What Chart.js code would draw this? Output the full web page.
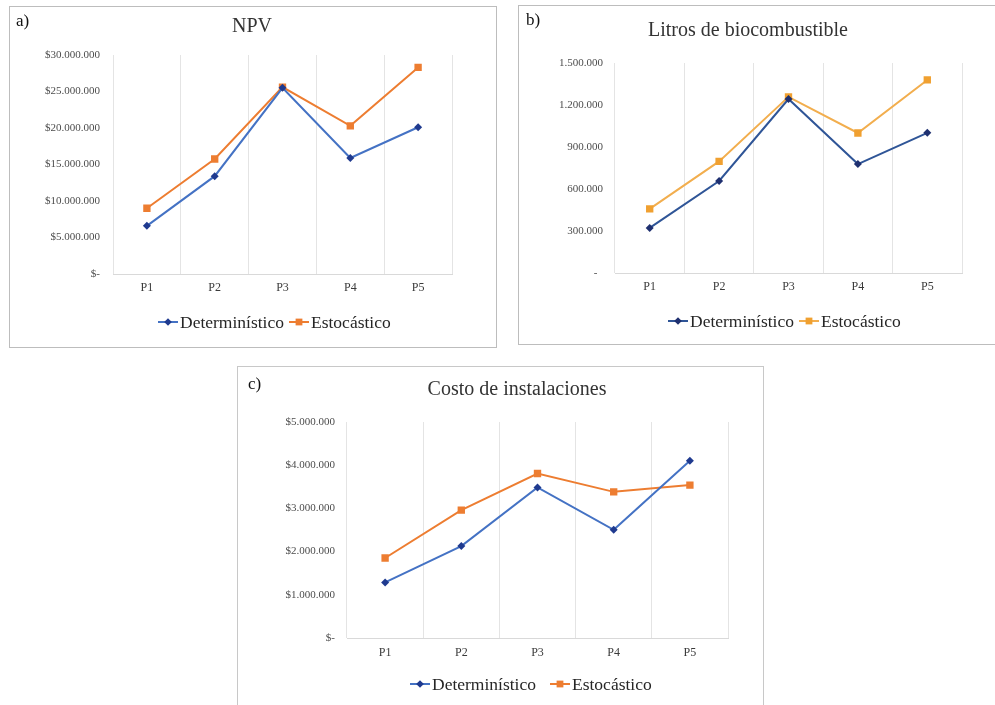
<!DOCTYPE html>
<html>
<head>
<meta charset="utf-8">
<script src="https://cdn.jsdelivr.net/npm/chart.js@4.4.1/dist/chart.umd.min.js"></script>
<style>
  html, body { margin: 0; padding: 0; background: #ffffff; width: 995px; height: 705px; overflow: hidden; }
  canvas { position: absolute; }
</style>
</head>
<body>
<canvas id="chartNpv" width="488" height="342" style="left:9px;top:6px"></canvas>
<canvas id="chartLitros" width="490" height="340" style="left:518px;top:5px"></canvas>
<canvas id="chartCosto" width="527" height="345" style="left:237px;top:366px"></canvas>
<script>
// Categories and series names
const periods = ['P1', 'P2', 'P3', 'P4', 'P5'];
const seriesNames = ['Determinístico', 'Estocástico'];

// a) NPV
const npvDet = [6600000, 13400000, 25500000, 15900000, 20100000];
const npvSto = [9000000, 15750000, 25600000, 20300000, 28300000];
const npvTicks = ['$-', '$5.000.000', '$10.000.000', '$15.000.000', '$20.000.000', '$25.000.000', '$30.000.000'];

// b) Litros de biocombustible
const litrosDet = [322000, 657000, 1243000, 778000, 1001000];
const litrosSto = [458000, 797000, 1258000, 1000000, 1379000];
const litrosTicks = ['-  ', '300.000', '600.000', '900.000', '1.200.000', '1.500.000'];

// c) Costo de instalaciones
const costoDet = [1287000, 2127000, 3485000, 2504000, 4105000];
const costoSto = [1852000, 2959000, 3807000, 3383000, 3540000];
const costoTicks = ['$-', '$1.000.000', '$2.000.000', '$3.000.000', '$4.000.000', '$5.000.000'];

const SERIF = '"Liberation Serif", "Times New Roman", serif';
const font = (size) => `${size}px ${SERIF}`;

function drawMarker(ctx, style, x, y, r, color) {
  ctx.fillStyle = color;
  ctx.beginPath();
  if (style === 'rectRot') {
    ctx.moveTo(x, y - r); ctx.lineTo(x + r, y); ctx.lineTo(x, y + r); ctx.lineTo(x - r, y);
    ctx.closePath();
  } else {
    const s = r * Math.SQRT1_2;
    ctx.rect(x - s, y - s, 2 * s, 2 * s);
  }
  ctx.fill();
}

// Panel frame, tag, title and legend for each chart
const panelDecor = {
  id: 'panelDecor',
  beforeDraw(chart) {
    const ctx = chart.ctx;
    ctx.save();
    ctx.fillStyle = '#ffffff';
    ctx.fillRect(0, 0, chart.width, chart.height);
    ctx.restore();
  },
  afterDraw(chart, args, o) {
    const ctx = chart.ctx;
    ctx.save();
    // frame
    ctx.strokeStyle = o.frameColor;
    ctx.lineWidth = 1;
    ctx.strokeRect(0.5, 0.5, chart.width - 1, chart.height - 1);
    // tag
    ctx.fillStyle = '#111111';
    ctx.font = font(17);
    ctx.textAlign = 'left';
    ctx.textBaseline = 'middle';
    ctx.fillText(o.tag, o.tagX, o.tagY);
    // title
    ctx.fillStyle = '#333333';
    ctx.font = font(20);
    ctx.textAlign = 'center';
    ctx.fillText(o.title, o.titleX, o.titleY);
    // legend
    ctx.font = font(17.5);
    ctx.textAlign = 'left';
    let x = o.legendX;
    const y = o.legendY;
    chart.data.datasets.forEach((ds) => {
      ctx.strokeStyle = ds.borderColor;
      ctx.lineWidth = 2;
      ctx.beginPath();
      ctx.moveTo(x, y);
      ctx.lineTo(x + 20, y);
      ctx.stroke();
      drawMarker(ctx, ds.pointStyle, x + 10, y, ds.pointStyle === 'rectRot' ? 3.8 : 4.8, ds.pointBackgroundColor);
      x += 22;
      ctx.fillStyle = '#262626';
      ctx.fillText(ds.label, x, y + 1);
      x += ctx.measureText(ds.label).width + o.legendGap;
    });
    ctx.restore();
  }
};

function makeChart(id, cfg) {
  const datasets = [
    {
      label: seriesNames[0], data: cfg.det,
      borderColor: cfg.detLine, backgroundColor: cfg.detLine,
      pointStyle: 'rectRot', pointRadius: 4, pointBackgroundColor: cfg.detMark,
      pointBorderColor: cfg.detMark, pointBorderWidth: 0, borderWidth: 2, tension: 0
    },
    {
      label: seriesNames[1], data: cfg.sto,
      borderColor: cfg.stoLine, backgroundColor: cfg.stoLine,
      pointStyle: 'rect', pointRadius: 5.2, pointBackgroundColor: cfg.stoMark,
      pointBorderColor: cfg.stoMark, pointBorderWidth: 0, borderWidth: 2, tension: 0
    }
  ];
  return new Chart(document.getElementById(id), {
    type: 'line',
    data: { labels: periods, datasets },
    plugins: [panelDecor],
    options: {
      responsive: false,
      animation: false,
      devicePixelRatio: 1,
      layout: { padding: { left: 0, right: cfg.padRight, top: cfg.padTop, bottom: cfg.padBottom } },
      plugins: {
        legend: { display: false },
        title: { display: false },
        tooltip: { enabled: false },
        panelDecor: cfg.decor
      },
      scales: {
        x: {
          offset: true,
          grid: { offset: true, color: '#E4E4E4', lineWidth: 1, drawTicks: false },
          border: { display: true, color: '#D9D9D9', width: 1 },
          ticks: { font: { family: SERIF, size: 12 }, color: '#3A3A3A', padding: cfg.xPad },
          afterFit(scale) { scale.height = 20; }
        },
        y: {
          min: 0, max: cfg.max,
          grid: { display: false, drawTicks: false },
          border: { display: false },
          ticks: {
            stepSize: cfg.step,
            font: { family: SERIF, size: 11 }, color: '#4D4D4D', padding: cfg.yPad,
            callback: (value, index) => cfg.ticks[index]
          },
          afterFit(scale) { scale.width = cfg.yWidth; }
        }
      }
    }
  });
}

makeChart('chartNpv', {
  det: npvDet, sto: npvSto, ticks: npvTicks, max: 30000000, step: 5000000,
  detLine: '#4472C4', detMark: '#1F3A8F', stoLine: '#ED7D31', stoMark: '#ED7D31',
  yWidth: 104, padRight: 45, padTop: 49, padBottom: 54, yPad: 13, xPad: 7,
  decor: { tag: 'a)', tagX: 7, tagY: 16, title: 'NPV', titleX: 243, titleY: 21,
           legendX: 149, legendY: 316, legendGap: 5, frameColor: '#BDBDBD' }
});

makeChart('chartLitros', {
  det: litrosDet, sto: litrosSto, ticks: litrosTicks, max: 1500000, step: 300000,
  detLine: '#2F5597', detMark: '#1F3070', stoLine: '#F2AE4E', stoMark: '#F0A030',
  yWidth: 97, padRight: 46, padTop: 58, padBottom: 52, yPad: 12, xPad: 7,
  decor: { tag: 'b)', tagX: 8, tagY: 16, title: 'Litros de biocombustible', titleX: 230, titleY: 26,
           legendX: 150, legendY: 316, legendGap: 5, frameColor: '#BDBDBD' }
});

makeChart('chartCosto', {
  det: costoDet, sto: costoSto, ticks: costoTicks, max: 5000000, step: 1000000,
  detLine: '#4472C4', detMark: '#1F3A8F', stoLine: '#ED7D31', stoMark: '#ED7D31',
  yWidth: 110, padRight: 36, padTop: 56, padBottom: 53, yPad: 12, xPad: 8,
  decor: { tag: 'c)', tagX: 11, tagY: 19, title: 'Costo de instalaciones', titleX: 280, titleY: 24,
           legendX: 173, legendY: 318, legendGap: 14, frameColor: '#C8C8C8' }
});
</script>
</body>
</html>
